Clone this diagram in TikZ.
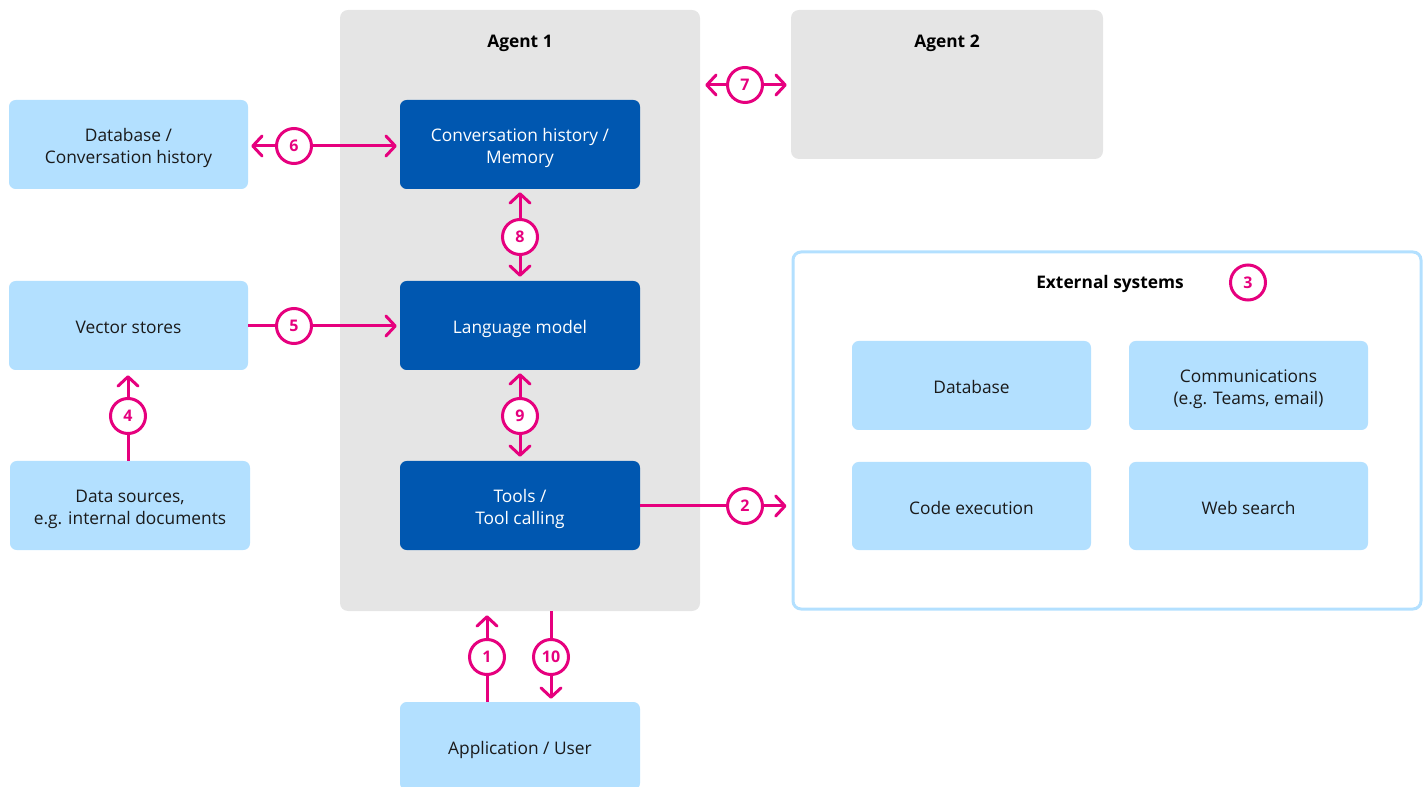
\documentclass[tikz,border=0pt]{standalone}
\usepackage{fontspec}
\setmainfont{Open Sans}
\usetikzlibrary{arrows.meta}
\definecolor{mag}{HTML}{E6007E}
\definecolor{lblue}{HTML}{B3E0FF}
\definecolor{dblue}{HTML}{0057B0}
\definecolor{agray}{HTML}{E5E5E5}
\definecolor{txt}{HTML}{1A1A1A}
\newcommand\tl[1]{\raisebox{-3pt}[\height][\depth]{\begin{tabular}{@{}c@{}}#1\end{tabular}}}
\tikzset{
  base/.style={inner sep=0pt, font=\fontsize{13}{16.5}\selectfont},
  lbox/.style={base, fill=lblue, rounded corners=5pt, text=txt, minimum width=179.25pt, minimum height=66.75pt},
  dbox/.style={base, fill=dblue, rounded corners=5pt, text=white, minimum width=180pt, minimum height=66.75pt},
  agentbox/.style={fill=agray, rounded corners=6pt, inner sep=0pt},
  title/.style={base, font=\fontsize{13}{16.5}\selectfont\bfseries, text=black},
  num/.style={circle, draw=mag, line width=2.25pt, fill=white, minimum size=26.25pt, inner sep=0pt, text=mag, font=\fontsize{12}{14}\selectfont\bfseries},
  arr/.style={draw=mag, line width=2.25pt, arrows={-Straight Barb[length=7pt,width=15pt,line cap=round,line join=round]}},
  plain/.style={draw=mag, line width=2.25pt}
}
\begin{document}
\begin{tikzpicture}[x=0.75pt,y=-0.75pt]
\useasboundingbox (0,0) rectangle (1424,787);
% containers
\node[agentbox, minimum width=270pt, minimum height=450.75pt] (a1) at (520,310.5) {};
\node[title] (a1t) at (520,43) {Agent 1};
\node[agentbox, minimum width=234pt, minimum height=111.75pt] (a2) at (947,84.5) {};
\node[title] (a2t) at (947,43) {Agent 2};
\node[draw=lblue, line width=2.25pt, rounded corners=6pt, fill=white, minimum width=471pt, minimum height=267.75pt, inner sep=0pt] (ext) at (1107,430.5) {};
\node[title] (extt) at (1110,284) {External systems};
\node[num] (n3) at (1248,282.5) {3};
% agent internals
\node[dbox] (conv) at (520,144.5) {\tl{Conversation history /\\Memory}};
\node[dbox] (lm) at (520,325.5) {\tl{Language model}};
\node[dbox] (tools) at (520,505.5) {\tl{Tools /\\Tool calling}};
% left boxes
\node[lbox] (db) at (128.5,144.5) {\tl{Database /\\Conversation history}};
\node[lbox] (vs) at (128.5,325.5) {\tl{Vector stores}};
\node[lbox, minimum width=180pt] (ds) at (130,505.5) {\tl{Data sources,\\e.g. internal documents}};
\node[lbox, minimum width=180pt, minimum height=66pt] (app) at (520,746) {\tl{Application / User}};
% external systems
\node[lbox] (edb) at (971.5,385.5) {\tl{Database}};
\node[lbox] (comm) at (1248.5,385.5) {\tl{Communications\\(e.g. Teams, email)}};
\node[lbox, minimum height=66pt] (code) at (971.5,506) {\tl{Code execution}};
\node[lbox, minimum height=66pt] (web) at (1248.5,506) {\tl{Web search}};
% number circles
\node[num] (n6) at (294,146) {6};
\node[num] (n7) at (745,85) {7};
\node[num] (n8) at (520,237) {8};
\node[num] (n5) at (294,326) {5};
\node[num] (n9) at (520,416) {9};
\node[num] (n4) at (128,416) {4};
\node[num] (n2) at (745,506) {2};
\node[num] (n1) at (487,657) {1};
\node[num] (n10) at (551,657) {10};
% connectors
\draw[arr, shorten >=2.25pt] (n6) -- (db.east |- n6);
\draw[arr, shorten >=2.25pt] (n6) -- (conv.west |- n6);
\draw[arr, shorten >=3.75pt] (n7) -- (a1.east |- n7);
\draw[arr, shorten >=3pt] (n7) -- (a2.west |- n7);
\draw[arr, shorten >=2.25pt] (n8) -- (conv.south);
\draw[arr, shorten >=3pt] (n8) -- (lm.north);
\draw[plain] (vs.east |- n5) -- (n5);
\draw[arr, shorten >=2.25pt] (n5) -- (lm.west |- n5);
\draw[arr, shorten >=2.25pt] (n9) -- (lm.south);
\draw[arr, shorten >=3pt] (n9) -- (tools.north);
\draw[plain] (ds.north -| n4) -- (n4);
\draw[arr, shorten >=3.75pt] (n4) -- (vs.south -| n4);
\draw[plain] (tools.east |- n2) -- (n2);
\draw[arr, shorten >=3.75pt] (n2) -- (ext.west |- n2);
\draw[plain] (app.north -| n1) -- (n1);
\draw[arr, shorten >=3pt] (n1) -- (a1.south -| n1);
\draw[plain] (a1.south -| n10) -- (n10);
\draw[arr, shorten >=2.25pt] (n10) -- (app.north -| n10);
\end{tikzpicture}
\end{document}
